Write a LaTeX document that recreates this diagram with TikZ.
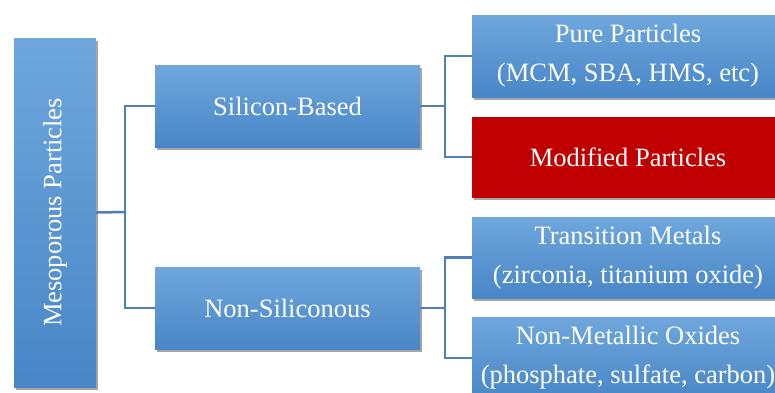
\documentclass[tikz,border=0pt]{standalone}
\usepackage{fontspec}
\setmainfont{Liberation Serif}
\usetikzlibrary{shadows}
\definecolor{boxtop}{HTML}{6FA7DD}
\definecolor{boxbot}{HTML}{4886C7}
\definecolor{modred}{HTML}{C00000}
\definecolor{linkblue}{HTML}{4F7FB5}
\tikzset{
  box/.style={rectangle, top color=boxtop, bottom color=boxbot, draw=none,
    text=white, align=center, inner sep=0pt,
    font=\fontsize{26.5}{39}\selectfont,
    drop shadow={shadow xshift=2pt, shadow yshift=-3pt, opacity=.35, fill=black}},
  redbox/.style={box, top color=modred, bottom color=modred},
  link/.style={draw=linkblue, line width=2.5pt}
}

\begin{document}
\begin{tikzpicture}[x=1pt,y=-1pt]
\useasboundingbox (0,0) rectangle (775,392);
% levels
\node[box, minimum width=82, minimum height=349] (root) at (55,212.5) {\rotatebox{90}{Mesoporous Particles}};
\node[box, minimum width=265, minimum height=82] (sb) at (287.5,106) {Silicon-Based};
\node[box, minimum width=265, minimum height=82] (ns) at (287.5,308) {Non-Siliconous};
\node[box, minimum width=312, minimum height=82] (pure) at (628,56) {Pure Particles\\(MCM, SBA, HMS, etc)};
\node[redbox, minimum width=312, minimum height=80] (mod) at (628,157) {Modified Particles};
\node[box, minimum width=312, minimum height=81] (trans) at (628,257.5) {Transition Metals\\(zirconia, titanium oxide)};
\node[box, minimum width=312, minimum height=82] (nmo) at (628,358) {Non-Metallic Oxides\\(phosphate, sulfate, carbon)};
% connectors
\coordinate (j1) at (125,212);
\coordinate (j2) at (445,106);
\coordinate (j3) at (445,308);
\draw[link] (root.east) -- (j1);
\draw[link] (sb.west) -| (j1);
\draw[link] (ns.west) -| (j1);
\draw[link] (sb.east) -- (j2);
\draw[link] (pure.west) -| (j2);
\draw[link] (mod.west) -| (j2);
\draw[link] (ns.east) -- (j3);
\draw[link] (trans.west) -| (j3);
\draw[link] (nmo.west) -| (j3);
\end{tikzpicture}
\end{document}
